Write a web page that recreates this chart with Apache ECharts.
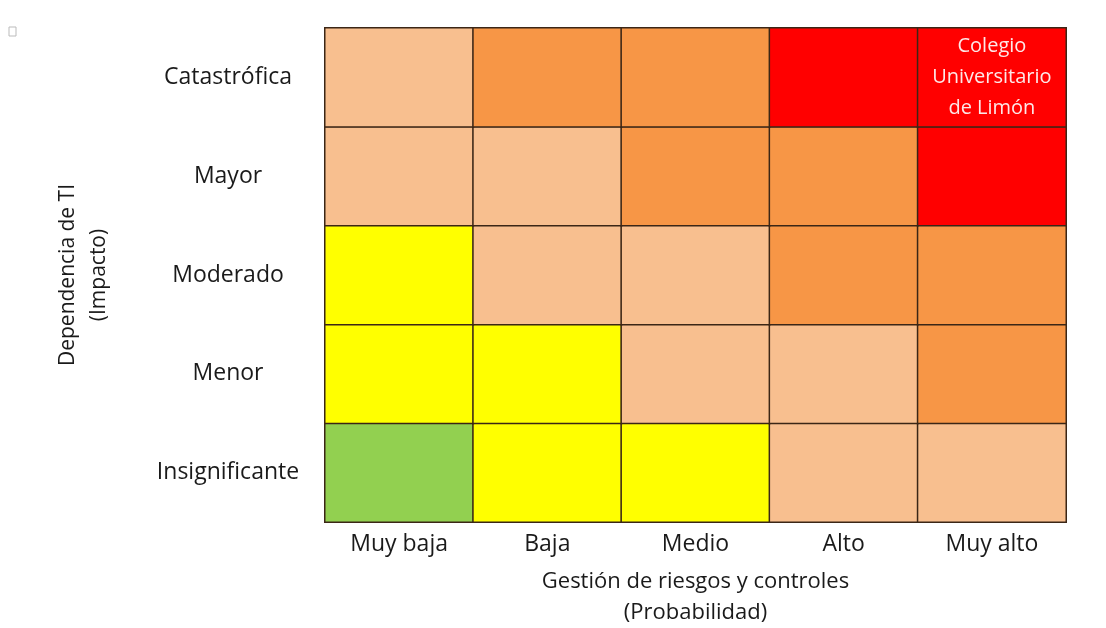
<!DOCTYPE html>
<html>
<head>
<meta charset="utf-8">
<script src="https://cdn.jsdelivr.net/npm/echarts@6/dist/echarts.min.js"></script>
<style>
    html, body { margin: 0; padding: 0; background: #fff; }
    #chart { width: 1106px; height: 628px; }
</style>
</head>
<body>
<div id="chart"></div>
<script>
    // categorias
    let probabilidad = ['Muy baja', 'Baja', 'Medio', 'Alto', 'Muy alto'];
    let impacto = ['Insignificante', 'Menor', 'Moderado', 'Mayor', 'Catastrófica'];

    // nivel de riesgo por fila (de Insignificante a Catastrófica)
    let nivelInsignificante = [1, 2, 2, 3, 3];
    let nivelMenor = [2, 2, 3, 3, 4];
    let nivelModerado = [2, 3, 3, 4, 4];
    let nivelMayor = [3, 3, 4, 4, 5];
    let nivelCatastrofica = [3, 4, 4, 5, 5];

    let colores = ['#92D050', '#FFFF00', '#F8BF8F', '#F79646', '#FF0000'];

    let filas = [nivelInsignificante, nivelMenor, nivelModerado, nivelMayor, nivelCatastrofica];
    let datos = [];
    filas.forEach(function (fila, y) {
        fila.forEach(function (v, x) {
            let item = {value: [x, y, v]};
            if (x === 4 && y === 4) {
                item.label = {
                    show: true,
                    formatter: 'Colegio\nUniversitario\nde Limón',
                    color: '#fde8e8',
                    fontSize: 20,
                    lineHeight: 31,
                    padding: [6, 0, 0, 0],
                    fontFamily: 'Open Sans'
                };
            }
            datos.push(item);
        });
    });

    let myChart = echarts.init(document.getElementById('chart'));
    let option = {
        animation: false,
        grid: {left: 325, right: 40, top: 28, bottom: 106, outerBoundsMode: 'none'},
        textStyle: {fontFamily: 'Open Sans'},
        xAxis: {
            type: 'category',
            data: probabilidad,
            axisLine: {show: false},
            axisTick: {show: false},
            splitLine: {show: false},
            axisLabel: {color: '#1a1a1a', fontSize: 23, margin: 11},
            name: 'Gestión de riesgos y controles\n(Probabilidad)',
            nameLocation: 'middle',
            nameGap: 44,
            nameTextStyle: {color: '#1a1a1a', fontSize: 22, lineHeight: 31, verticalAlign: 'top'}
        },
        yAxis: {
            type: 'category',
            data: impacto,
            axisLine: {show: false},
            axisTick: {show: false},
            splitLine: {show: false},
            axisLabel: {color: '#1a1a1a', fontSize: 23, align: 'center', margin: 97, padding: [6, 0, 0, 0]},
            name: 'Dependencia de TI\n(Impacto)',
            nameLocation: 'middle',
            nameGap: 210,
            nameRotate: 90,
            nameTextStyle: {color: '#1a1a1a', fontSize: 21, lineHeight: 31}
        },
        visualMap: {
            show: false,
            type: 'piecewise',
            dimension: 2,
            pieces: [
                {value: 1, color: colores[0]},
                {value: 2, color: colores[1]},
                {value: 3, color: colores[2]},
                {value: 4, color: colores[3]},
                {value: 5, color: colores[4]}
            ]
        },
        series: [{
            type: 'heatmap',
            data: datos,
            label: {show: false},
            itemStyle: {borderColor: '#3b2616', borderWidth: 1.5},
            emphasis: {disabled: true}
        }],
        graphic: [{
            type: 'rect',
            shape: {x: 9, y: 27, width: 7, height: 9},
            style: {fill: '#fff', stroke: '#bbb', lineWidth: 1}
        }]
    };
    myChart.setOption(option);
</script>
</body>
</html>
